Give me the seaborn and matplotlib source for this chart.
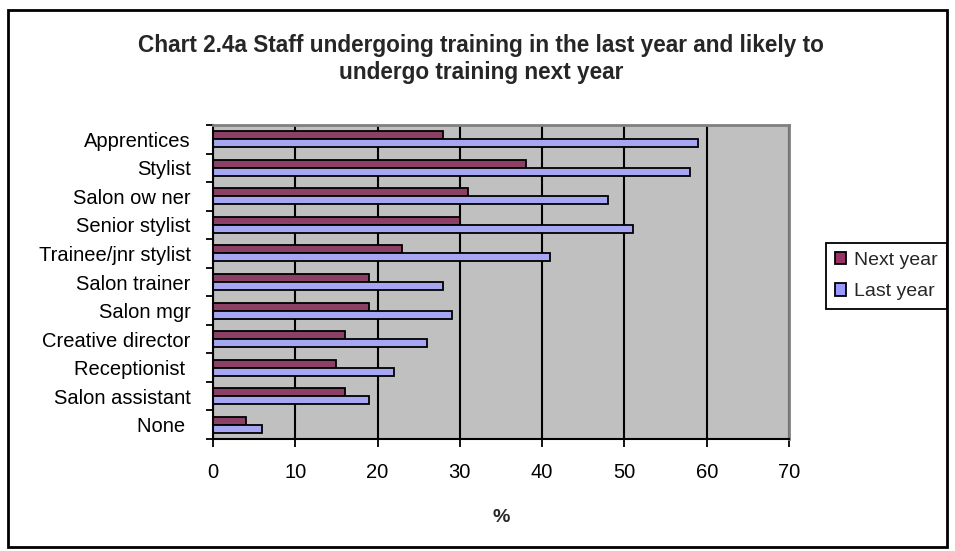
import matplotlib
matplotlib.use("Agg")
import matplotlib.pyplot as plt
from matplotlib.patches import Rectangle, Patch
from matplotlib.ticker import FixedLocator
import numpy as np
import pandas as pd
import seaborn as sns

# Staff roles, top to bottom
roles = ["Apprentices", "Stylist", "Salon ow ner", "Senior stylist",
         "Trainee/jnr stylist", "Salon trainer", "Salon mgr",
         "Creative director", "Receptionist ", "Salon assistant", "None "]
# Share of staff (%) likely to undergo training next year / trained last year
next_year = [28, 38, 31, 30, 23, 19, 19, 16, 15, 16, 4]
last_year = [59, 58, 48, 51, 41, 28, 29, 26, 22, 19, 6]
periods = ["Next year", "Last year"]
period_colors = ["#993366", "#9999FF"]
x_ticks = [0, 10, 20, 30, 40, 50, 60, 70]

title = ("Chart 2.4a Staff undergoing training in the last year and likely to\n"
         "undergo training next year")
x_label = "%"

df = pd.DataFrame({
    "role": roles * 2,
    "pct": next_year + last_year,
    "period": [periods[0]] * len(roles) + [periods[1]] * len(roles),
})

sns.set_theme(style="white")
plt.rcParams["font.family"] = ["Liberation Sans", "DejaVu Sans"]

W, H = 955, 551
fig = plt.figure(figsize=(W / 100, H / 100), dpi=100)

def fx(px):
    return px / W

def fy(py):
    return 1 - py / H

# outer chart frame
fig.patches.append(Rectangle((fx(8), fy(547)), fx(947) - fx(8), fy(10) - fy(547),
                             transform=fig.transFigure, fill=False,
                             edgecolor="black", linewidth=2, zorder=0))

left, right, top, bottom = 213, 789, 125, 439
ax = fig.add_axes([fx(left), fy(bottom), fx(right) - fx(left), fy(top) - fy(bottom)])
ax.set_facecolor("#C0C0C0")

sns.barplot(data=df, x="pct", y="role", hue="period", hue_order=periods,
            order=roles, palette=period_colors, orient="h", width=0.56,
            edgecolor="black", linewidth=1.3, ax=ax, legend=False)

ax.set_xlim(0, 70)
ax.set_ylim(len(roles) - 0.5, -0.5)
ax.xaxis.set_major_locator(FixedLocator(x_ticks))
ax.set_xticklabels([str(t) for t in x_ticks])
ax.grid(axis="x", color="black", linewidth=1.5)
ax.grid(axis="y", visible=False)
ax.set_axisbelow(True)

# category boundary ticks on the y axis
ax.set_yticks(range(len(roles)))
ax.set_yticklabels(roles)
ax.yaxis.set_minor_locator(FixedLocator(np.arange(-0.5, len(roles), 1.0)))
ax.tick_params(axis="y", which="major", length=0, pad=16, labelsize=14.5)
ax.tick_params(axis="y", which="minor", length=5, width=1.3, color="black", left=True)
ax.tick_params(axis="x", which="major", length=6, width=1.3, color="black",
               bottom=True, pad=11, labelsize=14.5)
for lab in ax.get_xticklabels() + ax.get_yticklabels():
    lab.set_color("black")

for side in ("left", "bottom"):
    ax.spines[side].set_color("black")
    ax.spines[side].set_linewidth(1.5)
for side in ("top", "right"):
    ax.spines[side].set_color("#808080")
    ax.spines[side].set_linewidth(2)

ax.set_ylabel("")
ax.set_xlabel("")
fig.text(fx(501), fy(518), x_label, ha="center", va="center",
         fontsize=14, fontweight="bold")

fig.text(fx(481), fy(59), title, ha="center", va="center", fontsize=16.3,
         fontweight="bold", linespacing=1.25,
         family=["Liberation Sans Narrow", "Liberation Sans", "DejaVu Sans"])

handles = [Patch(facecolor=c, edgecolor="black", linewidth=1.3) for c in period_colors]
leg = ax.legend(handles, periods, loc="upper left",
                bbox_to_anchor=(fx(826), fy(243)), bbox_transform=fig.transFigure,
                frameon=True, fancybox=False, framealpha=1, edgecolor="black",
                fontsize=14, handlelength=0.6, handleheight=0.6,
                handletextpad=0.4, labelspacing=0.75, borderpad=0.45,
                borderaxespad=0)
leg.get_frame().set_linewidth(1.3)

fig.savefig("out.png", dpi=100)
